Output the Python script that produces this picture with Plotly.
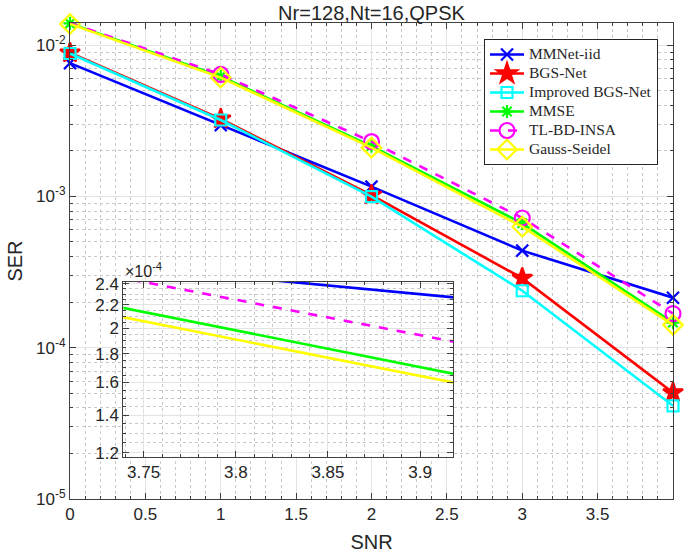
import plotly.graph_objects as go

# ---------------- data ----------------
snr = [0, 1, 2, 3, 4]
mmnet_iid = [7.6e-3, 2.96e-3, 1.16e-3, 4.38e-4, 2.14e-4]
bgs_net = [8.9e-3, 3.25e-3, 1.02e-3, 2.88e-4, 5.05e-5]
improved_bgs_net = [8.8e-3, 3.2e-3, 9.96e-4, 2.38e-4, 4.13e-5]
mmse = [1.39e-2, 6.2e-3, 2.15e-3, 6.64e-4, 1.465e-4]
tl_bd_insa = [1.40e-2, 6.4e-3, 2.3e-3, 7.2e-4, 1.68e-4]
gauss_seidel = [1.38e-2, 6.1e-3, 2.1e-3, 6.31e-4, 1.416e-4]

series_names = ["MMNet-iid", "BGS-Net", "Improved BGS-Net", "MMSE", "TL-BD-INSA", "Gauss-Seidel"]
series_values = [mmnet_iid, bgs_net, improved_bgs_net, mmse, tl_bd_insa, gauss_seidel]

x_ticks = [0, 0.5, 1, 1.5, 2, 2.5, 3, 3.5]
x_tick_labels = ["0", "0.5", "1", "1.5", "2", "2.5", "3", "3.5"]
y_ticks = [1e-5, 1e-4, 1e-3, 1e-2]
y_tick_labels = ["10<sup>-5</sup>", "10<sup>-4</sup>", "10<sup>-3</sup>", "10<sup>-2</sup>"]
inset_x_ticks = [3.75, 3.8, 3.85, 3.9]
inset_x_labels = ["3.75", "3.8", "3.85", "3.9"]
inset_y_ticks = [1.2e-4, 1.4e-4, 1.6e-4, 1.8e-4, 2.0e-4, 2.2e-4, 2.4e-4]
inset_y_labels = ["1.2", "1.4", "1.6", "1.8", "2", "2.2", "2.4"]

title_text = "Nr=128,Nt=16,QPSK"
x_title = "SNR"
y_title = "SER"

# ---------------- styles ----------------
colors = ["#0000ff", "#ff0000", "#00ffff", "#00ff00", "#ff00ff", "#ffff00"]
dashes = ["solid", "solid", "solid", "solid", "dash", "solid"]
symbols = ["x-thin-open", "star", "square-open", "asterisk-open", "circle-open", "diamond-open"]
sizes = [12, 15, 11, 11, 15, 15]

W, H = 685, 554
ML, MR, MT, MB = 70, 12, 23, 55
PW, PH = W - ML - MR, H - MT - MB

def px_x(p):
    return (p - ML) / PW

def px_y(p):
    return (H - MB - p) / PH

AX = "#404040"
TXT = "#262626"
GRID = "#e3e3e3"
MINOR = "#c9c9c9"
SANS = "Liberation Sans, Arial"

fig = go.Figure()

for name, vals, c, d, s, sz in zip(series_names, series_values, colors, dashes, symbols, sizes):
    fig.add_trace(go.Scatter(
        x=snr, y=vals, mode="lines+markers",
        name='<span style="font-size:15.5px">' + name + "</span>",
        line=dict(color=c, width=2.6, dash=d),
        marker=dict(symbol=s, size=sz, color=c, line=dict(color=c, width=2.2)),
        cliponaxis=False,
    ))

for name, vals, c, d in zip(series_names, series_values, colors, dashes):
    fig.add_trace(go.Scatter(
        x=snr, y=vals, name=name, mode="lines", showlegend=False,
        line=dict(color=c, width=2.6, dash=d),
        xaxis="x2", yaxis="y2", hoverinfo="skip",
    ))

y_minor = [k * 10.0 ** e for e in range(-5, -1) for k in range(2, 10) if k * 10.0 ** e <= 0.014]
inset_y_minor = [v * 1e-4 for v in [1.25, 1.3, 1.35, 1.45, 1.5, 1.55, 1.65, 1.7, 1.75, 1.85, 1.9, 1.95, 2.05, 2.1, 2.15, 2.25, 2.3, 2.35]]

axis_common = dict(
    showline=True, linecolor=AX, linewidth=1, mirror="allticks",
    ticks="inside", ticklen=6, tickcolor=AX,
    showgrid=True, gridcolor=GRID, gridwidth=1, zeroline=False,
    tickfont=dict(family=SANS, size=17, color=TXT),
    automargin=False,
)

fig.update_layout(
    width=W, height=H,
    margin=dict(l=ML, r=MR, t=MT, b=MB),
    paper_bgcolor="white", plot_bgcolor="white",
    title=dict(text=title_text, x=(ML + PW / 2) / W, xanchor="center", y=1 - 13 / H, yanchor="middle",
               font=dict(family=SANS, size=20, color=TXT)),
    showlegend=True,
    legend=dict(
        x=px_x(658), y=px_y(39), xanchor="right", yanchor="top",
        bgcolor="white", bordercolor=TXT, borderwidth=1,
        font=dict(family="Liberation Serif, Times New Roman", size=12, color=TXT),
        tracegroupgap=0, itemwidth=34,
    ),
    xaxis=dict(
        range=[0, 4], tickmode="array", tickvals=x_ticks, ticktext=x_tick_labels,
        title=dict(text=x_title, font=dict(family=SANS, size=20, color=TXT), standoff=11),
        minor=dict(dtick=0.1, tick0=0, ticks="inside", ticklen=3, tickcolor=AX,
                   showgrid=True, gridcolor=MINOR, griddash="dot", gridwidth=1),
        **axis_common,
    ),
    yaxis=dict(
        type="log", range=[-5, 1.146128 - 3], tickmode="array", tickvals=y_ticks, ticktext=y_tick_labels,
        title=dict(text=y_title, font=dict(family=SANS, size=20, color=TXT), standoff=8),
        minor=dict(tickmode="array", tickvals=y_minor, ticks="inside", ticklen=3, tickcolor=AX,
                   showgrid=True, gridcolor=MINOR, griddash="dot", gridwidth=1),
        **axis_common,
    ),
    xaxis2=dict(
        domain=[px_x(123.3), px_x(453.3)], anchor="y2",
        range=[3.739, 3.918], tickmode="array", tickvals=inset_x_ticks, ticktext=inset_x_labels,
        minor=dict(dtick=0.01, tick0=3.7, ticks="inside", ticklen=3, tickcolor=AX,
                   showgrid=True, gridcolor=MINOR, griddash="dot", gridwidth=1),
        **axis_common,
    ),
    yaxis2=dict(
        domain=[px_y(456.7), px_y(281.7)], anchor="x2", type="log",
        range=[-3.92812, -3.61618], tickmode="array", tickvals=inset_y_ticks, ticktext=inset_y_labels,
        minor=dict(tickmode="array", tickvals=inset_y_minor, ticks="inside", ticklen=3, tickcolor=AX,
                   showgrid=True, gridcolor=MINOR, griddash="dot", gridwidth=1),
        **axis_common,
    ),
)

fig.add_annotation(
    text="×10<sup>-4</sup>", xref="paper", yref="paper",
    x=px_x(123), y=px_y(282), xanchor="left", yanchor="bottom",
    showarrow=False, font=dict(family=SANS, size=16, color=TXT),
)

fig.write_html("out.html")
